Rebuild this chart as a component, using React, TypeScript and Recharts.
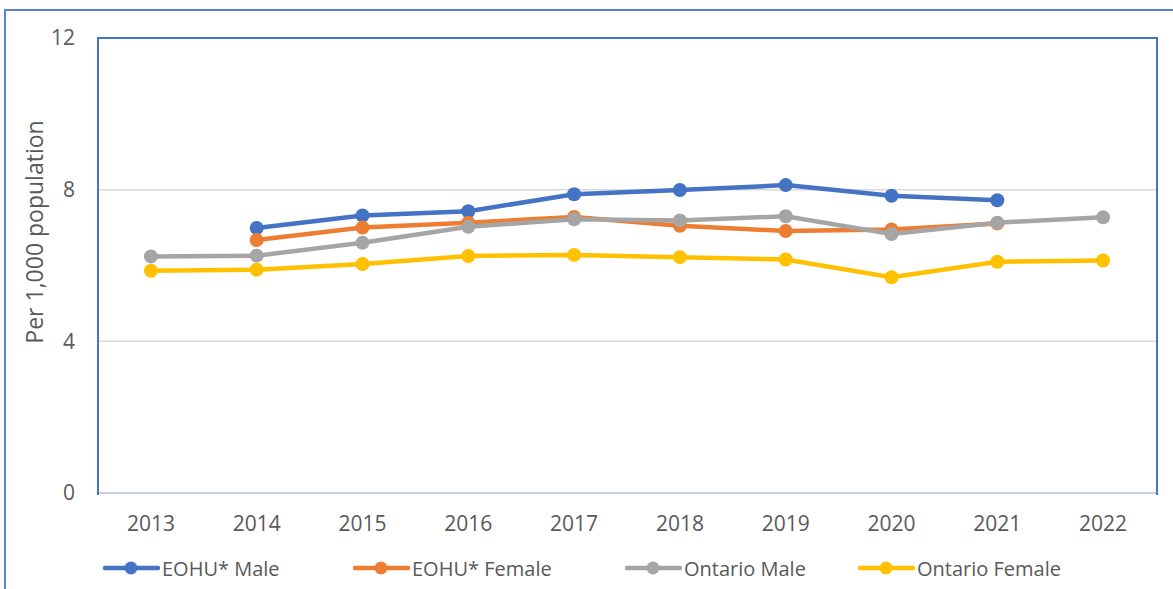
import React from 'react';
import { LineChart, Line, XAxis, YAxis, CartesianGrid, Legend, Label } from 'recharts';

const years = ['2013', '2014', '2015', '2016', '2017', '2018', '2019', '2020', '2021', '2022'];
const eohuMale = [null, 6.99, 7.32, 7.43, 7.88, 7.99, 8.12, 7.84, 7.72, null];
const eohuFemale = [null, 6.67, 7.0, 7.13, 7.28, 7.05, 6.91, 6.95, 7.11, null];
const ontarioMale = [6.24, 6.26, 6.6, 7.02, 7.22, 7.19, 7.3, 6.83, 7.13, 7.27];
const ontarioFemale = [5.86, 5.89, 6.04, 6.25, 6.28, 6.22, 6.16, 5.69, 6.1, 6.13];
const yTicks = [0, 4, 8, 12];

const series = [
    { key: 'eohuMale', name: 'EOHU* Male', color: '#4472C4' },
    { key: 'eohuFemale', name: 'EOHU* Female', color: '#ED7D31' },
    { key: 'ontarioMale', name: 'Ontario Male', color: '#A5A5A5' },
    { key: 'ontarioFemale', name: 'Ontario Female', color: '#FFC000' },
];

const data = years.map((year, i) => ({
    year,
    eohuMale: eohuMale[i],
    eohuFemale: eohuFemale[i],
    ontarioMale: ontarioMale[i],
    ontarioFemale: ontarioFemale[i],
}));

const FONT = '"Open Sans", Lato, sans-serif';
const TEXT = '#595959';
const legendLefts = [103, 353, 625, 858];

const LegendContent = () => (
    <div style={{ position: 'relative', width: 1173, height: 32 }}>
        {series.map((s, i) => (
            <div
                key={s.key}
                style={{ position: 'absolute', left: legendLefts[i], top: 0, height: 32, display: 'flex', alignItems: 'center' }}
            >
                <svg width={57} height={20} style={{ display: 'block' }}>
                    <line x1={2} y1={10} x2={55} y2={10} stroke={s.color} strokeWidth={4.5} strokeLinecap="round" />
                    <circle cx={28} cy={10} r={6.5} fill={s.color} />
                </svg>
                <span style={{ fontFamily: FONT, fontSize: 20, color: TEXT, marginLeft: 2 }}>{s.name}</span>
            </div>
        ))}
    </div>
);

const YTitle = () => (
    <text
        x={34}
        y={232}
        transform="rotate(-90 34 232)"
        textAnchor="middle"
        dominantBaseline="central"
        fill={TEXT}
        style={{ fontFamily: FONT, fontSize: 23 }}
    >
        Per 1,000 population
    </text>
);

export default function App() {
    return (
        <div style={{ position: 'absolute', left: 0, top: 0, width: 1173, height: 589, overflow: 'hidden', background: '#fff' }}>
            {/* outer frame, runs off the right and bottom edges */}
            <div
                style={{
                    position: 'absolute',
                    left: 4,
                    top: 9,
                    width: 1300,
                    height: 700,
                    border: '2px solid #5a83cf',
                }}
            />
            <div style={{ position: 'absolute', left: 0, top: 0 }}>
                <LineChart width={1173} height={589} data={data} margin={{ top: 38, right: 17, left: 38, bottom: 46 }}>
                    <CartesianGrid vertical={false} stroke="#D9D9D9" strokeWidth={1.5} />
                    <XAxis
                        dataKey="year"
                        scale="band"
                        height={50}
                        axisLine={{ stroke: '#C9CEDD', strokeWidth: 2 }}
                        tickLine={false}
                        tickSize={0}
                        tickMargin={23}
                        tick={{ fill: TEXT, fontSize: 21, fontFamily: FONT }}
                        interval={0}
                    />
                    <YAxis
                        width={60}
                        domain={[0, 12]}
                        ticks={yTicks}
                        axisLine={false}
                        tickLine={false}
                        tickSize={0}
                        tickMargin={23}
                        tick={{ fill: TEXT, fontSize: 21, fontFamily: FONT }}
                    >
                        <Label content={<YTitle />} />
                    </YAxis>
                    {series.map((s) => (
                        <Line
                            key={s.key}
                            dataKey={s.key}
                            name={s.name}
                            stroke={s.color}
                            strokeWidth={4.5}
                            dot={{ r: 7, fill: s.color, stroke: s.color, strokeWidth: 0 }}
                            activeDot={false}
                            isAnimationActive={false}
                            connectNulls={false}
                        />
                    ))}
                    <Legend
                        layout="horizontal"
                        verticalAlign="middle"
                        align="center"
                        content={<LegendContent />}
                        wrapperStyle={{ top: 552, left: 0, width: 1173, height: 32 }}
                    />
                </LineChart>
            </div>
            {/* plot area frame: blue on left, top and right */}
            <div
                style={{
                    position: 'absolute',
                    left: 97,
                    top: 37,
                    width: 1057,
                    height: 456,
                    borderLeft: '2px solid #4472C4',
                    borderTop: '2px solid #4472C4',
                    borderRight: '2px solid #4472C4',
                    pointerEvents: 'none',
                }}
            />
        </div>
    );
}
